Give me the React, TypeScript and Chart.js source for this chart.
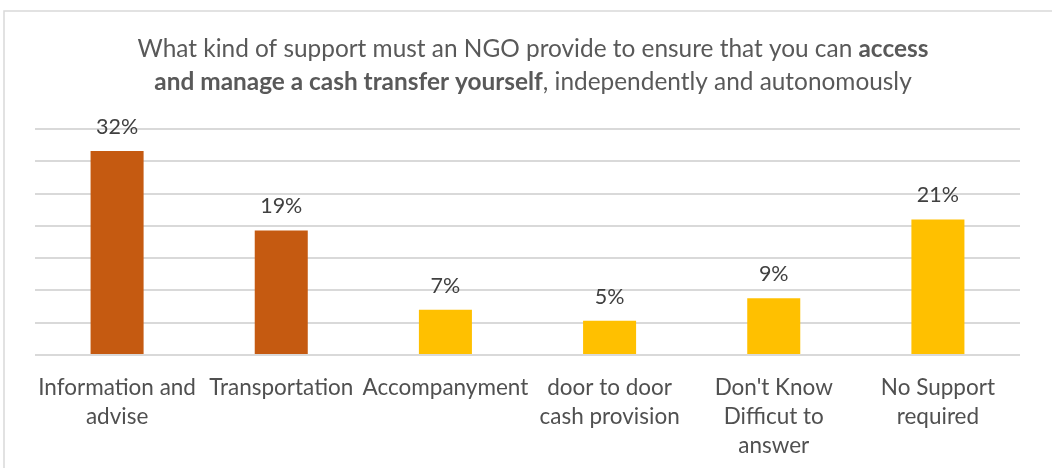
import React, { useEffect, useRef } from "react";
import { Chart, registerables } from "chart.js";

Chart.register(...registerables);

const categories: string[][] = [
  ["Information and", "advise"],
  ["Transportation"],
  ["Accompanyment"],
  ["door to door", "cash provision"],
  ["Don't Know", "Difficut to", "answer"],
  ["No Support", "required"],
];
const values: number[] = [31.6, 19.3, 7.0, 5.3, 8.8, 21.0];
const valueLabels: string[] = ["32%", "19%", "7%", "5%", "9%", "21%"];
const barColors: string[] = ["#C55A11", "#C55A11", "#FFC000", "#FFC000", "#FFC000", "#FFC000"];
const titleLine1 = [
  { text: "What kind of support must an NGO provide to ensure that you can ", bold: false },
  { text: "access", bold: true },
];
const titleLine2 = [
  { text: "and manage a cash transfer yourself", bold: true },
  { text: ", independently and autonomously", bold: false },
];
const yMax = 35;
const yStep = 5;

const FONT = "Lato, 'Open Sans', sans-serif";

const decorPlugin = {
  id: "decor",
  beforeDraw(chart: any) {
    const ctx = chart.ctx;
    ctx.save();
    ctx.fillStyle = "#ffffff";
    ctx.fillRect(0, 0, chart.width, chart.height);
    ctx.strokeStyle = "#d9d9d9";
    ctx.lineWidth = 1.5;
    ctx.strokeRect(4, 11, chart.width + 20, chart.height + 20);
    ctx.restore();
  },
  afterDraw(chart: any) {
    const ctx = chart.ctx;
    ctx.save();
    ctx.fillStyle = "#595959";
    ctx.textBaseline = "alphabetic";
    ctx.textAlign = "left";
    const size = 24.4;
    const drawLine = (segs: { text: string; bold: boolean }[], cx: number, y: number) => {
      let total = 0;
      const widths = segs.map((s) => {
        ctx.font = `${s.bold ? "bold " : ""}${size}px ${FONT}`;
        const w = ctx.measureText(s.text).width;
        total += w;
        return w;
      });
      let x = cx - total / 2;
      segs.forEach((s, i) => {
        ctx.font = `${s.bold ? "bold " : ""}${size}px ${FONT}`;
        ctx.fillText(s.text, x, y);
        x += widths[i];
      });
    };
    drawLine(titleLine1, 533, 57);
    drawLine(titleLine2, 533, 90);

    // data labels
    const meta = chart.getDatasetMeta(0);
    ctx.fillStyle = "#404040";
    ctx.textAlign = "center";
    ctx.font = `21.5px ${FONT}`;
    meta.data.forEach((bar: any, i: number) => {
      ctx.fillText(valueLabels[i], bar.x, bar.y - 17);
    });
    ctx.restore();
  },
};

export default function App() {
  const ref = useRef<HTMLCanvasElement>(null);
  useEffect(() => {
    document.body.style.margin = "0";
    const chart = new Chart(ref.current!, {
      type: "bar",
      data: {
        labels: categories,
        datasets: [
          {
            data: values,
            backgroundColor: barColors,
            categoryPercentage: 1,
            barPercentage: 0.323,
          },
        ],
      },
      options: {
        animation: false,
        responsive: false,
        devicePixelRatio: 1,
        layout: { padding: { left: 35, right: 32, top: 129, bottom: 0 } },
        plugins: {
          legend: { display: false },
          tooltip: { enabled: false },
          title: { display: false },
        },
        scales: {
          x: {
            grid: { display: false, drawTicks: false },
            border: { display: false },
            ticks: {
              color: "#505050",
              font: { family: FONT, size: 22.5, lineHeight: "29px" } as any,
              padding: 18,
              maxRotation: 0,
              autoSkip: false,
            },
            afterFit: (scale: any) => {
              scale.height = 113;
            },
          },
          y: {
            min: 0,
            max: yMax,
            ticks: { display: false, stepSize: yStep },
            grid: { color: "#d9d9d9", lineWidth: 2, drawTicks: false },
            border: { display: false },
            afterFit: (scale: any) => {
              scale.width = 0;
            },
          },
        },
      },
      plugins: [decorPlugin],
    });
    return () => chart.destroy();
  }, []);
  return (
    <div style={{ width: 1052, height: 468 }}>
      <canvas ref={ref} width={1052} height={468} style={{ display: "block" }} />
    </div>
  );
}
